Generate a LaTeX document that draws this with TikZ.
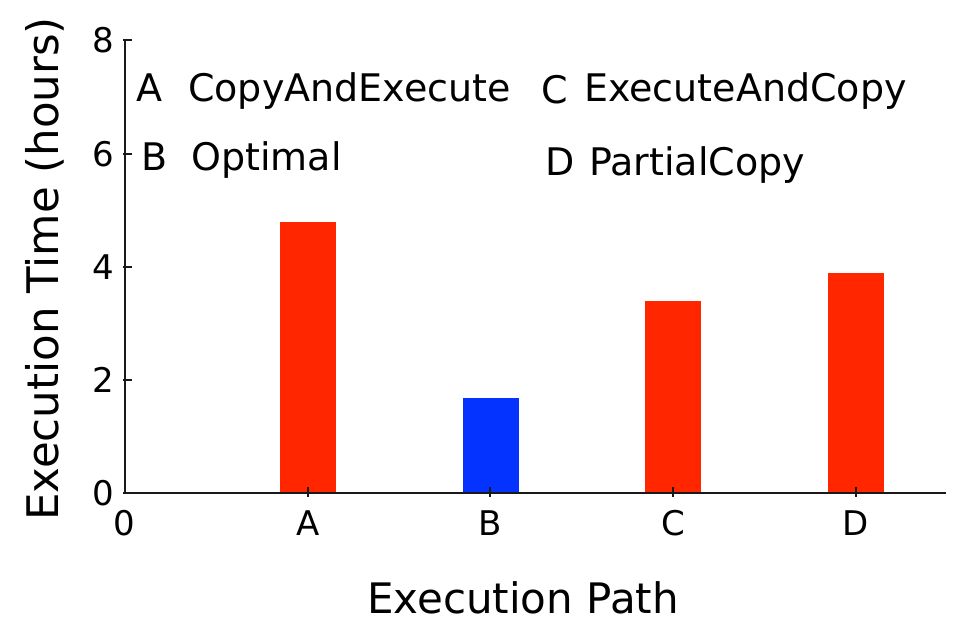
\documentclass[tikz,border=0pt]{standalone}
\usepackage{fontspec}
\setmainfont{DejaVu Sans}
\definecolor{barred}{HTML}{FF2600}
\definecolor{barblue}{HTML}{0433FF}
\tikzset{
  axisline/.style={line width=1.6pt, black!90},
  tickline/.style={line width=1.4pt, black!90},
  ticklabel/.style={font=\fontsize{34}{34}\selectfont, inner sep=0pt},
  legendtext/.style={font=\fontsize{38}{38}\selectfont, inner sep=0pt, anchor=base west},
  axistitle/.style={font=\fontsize{42}{42}\selectfont, inner sep=0pt, text depth=0pt}
}
\begin{document}
\begin{tikzpicture}[x=1pt,y=-1pt]
\useasboundingbox (0,0) rectangle (955,623);
% bars (56.5 units of height per hour, base at 493)
\fill[barred]  (280,493) rectangle (336,222);
\fill[barblue] (463,493) rectangle (519,398);
\fill[barred]  (645,493) rectangle (701,301);
\fill[barred]  (828,493) rectangle (884,273);
% axes
\coordinate (orig) at (125,493);
\coordinate (ytop) at (125,40);
\coordinate (xend) at (946,493);
\draw[axisline] (ytop) -- (orig) -- (xend);
% y ticks and labels
\foreach \v/\yy in {0/493,2/380,4/267,6/154,8/40}{
  \draw[tickline] (123,\yy) -- (132,\yy);
  \node[ticklabel] (yl\v) at (103,\yy) {\v};
}
% x ticks and labels
\node[ticklabel] (xl0) at (124,523) {0};
\foreach \n/\xx in {A/308,B/490,C/673,D/856}{
  \draw[tickline] (\xx,487) -- (\xx,497);
  \node[ticklabel] (xl\n) at (\xx,523) {\n};
}
% legend
\node[legendtext] (kA) at (136,102) {A};
\node[legendtext] (tA) at (188,102) {CopyAndExecute};
\node[legendtext] (kB) at (141,170) {B};
\node[legendtext] (tB) at (191,170) {Optimal};
\node[legendtext] (kC) at (541,104) {C};
\node[legendtext] (tC) at (584,102) {ExecuteAndCopy};
\node[legendtext] (kD) at (545,175) {D};
\node[legendtext] (tD) at (589,175) {PartialCopy};
% axis titles
\node[axistitle, anchor=base] (xt) at (523,613) {Execution Path};
\node[axistitle, font=\fontsize{43.5}{43.5}\selectfont, rotate=90] (yt) at (42,269) {Execution Time (hours)};
\end{tikzpicture}
\end{document}
